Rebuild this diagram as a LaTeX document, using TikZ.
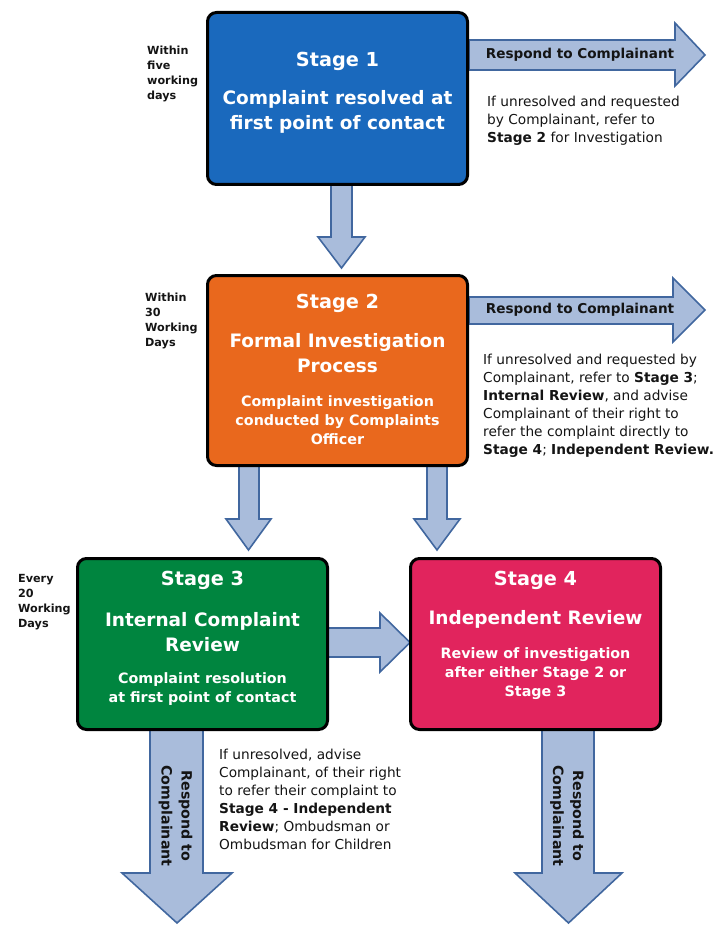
\documentclass[tikz,border=0pt]{standalone}
\usepackage{fontspec}
\setmainfont{DejaVu Sans}
\usetikzlibrary{backgrounds}
\definecolor{sone}{HTML}{1A69BD}
\definecolor{stwo}{HTML}{E9681D}
\definecolor{sthree}{HTML}{00853F}
\definecolor{sfour}{HTML}{E1245D}
\definecolor{arrowfill}{HTML}{A9BCDB}
\definecolor{arrowline}{HTML}{41679F}
\definecolor{ink}{HTML}{141414}
\newcommand{\fsz}[2]{\fontsize{#1}{#2}\selectfont}
\begin{document}
\begin{tikzpicture}[x=1pt,y=-1pt,
  stagebox/.style={draw=black, line width=3pt, rounded corners=9pt, inner sep=0pt},
  blockarrow/.style={fill=arrowfill, draw=arrowline, line width=1.6pt, line join=miter},
  stitle/.style={text=white, font=\bfseries\fsz{19.3}{24}, align=center, inner sep=0pt},
  smain/.style={text=white, font=\bfseries\fsz{18.5}{25}, align=center, inner sep=0pt},
  ssub/.style={text=white, font=\bfseries\fsz{14.3}{19}, align=center, inner sep=0pt},
  sidelabel/.style={text=ink, font=\bfseries\fsz{11.2}{15}, align=left, anchor=north west, inner sep=0pt},
  note/.style={text=ink, font=\fsz{13.7}{18}, align=left, anchor=north west, inner sep=0pt},
  arrowtext/.style={text=ink, font=\bfseries\fsz{13.6}{20}, align=center, inner sep=0pt}
]
\useasboundingbox (0,0) rectangle (713,925);

% stage boxes
\node[stagebox, fill=sone, minimum width=260pt, minimum height=172pt] (s1) at (337.5,98.5) {};
\node[stagebox, fill=stwo, minimum width=260pt, minimum height=190pt] (s2) at (337.5,370.5) {};
\node[stagebox, fill=sthree, minimum width=250pt, minimum height=171pt] (s3) at (202.5,644) {};
\node[stagebox, fill=sfour, minimum width=250pt, minimum height=171pt] (s4) at (535.5,644) {};

% block arrows
\begin{scope}[on background layer]
\draw[blockarrow] (s1.east |- 0,40) -- (675,40) -- (675,23) -- (705,55) -- (675,86) -- (675,70) -- (s1.east |- 0,70) -- cycle;
\draw[blockarrow] (s2.east |- 0,297) -- (673,297) -- (673,278) -- (705,310) -- (673,342) -- (673,324) -- (s2.east |- 0,324) -- cycle;
\draw[blockarrow] (331,180) -- (331,237) -- (318,237) -- (341.5,268) -- (365,237) -- (352,237) -- (352,180) -- cycle;
\draw[blockarrow] (239,460) -- (239,519) -- (226,519) -- (248.5,550) -- (271,519) -- (259,519) -- (259,460) -- cycle;
\draw[blockarrow] (427,460) -- (427,519) -- (414,519) -- (437,550) -- (460,519) -- (447,519) -- (447,460) -- cycle;
\draw[blockarrow] (320,628) -- (380,628) -- (380,613) -- (410,642.5) -- (380,672) -- (380,657) -- (320,657) -- cycle;
\draw[blockarrow] (150,725) -- (150,873) -- (122,873) -- (177,923) -- (232,873) -- (203,873) -- (203,725) -- cycle;
\draw[blockarrow] (542,725) -- (542,873) -- (515,873) -- (568.5,923) -- (622,873) -- (594,873) -- (594,725) -- cycle;
\end{scope}

% arrow texts
\node[arrowtext] (r1) at (580,55) {Respond to Complainant};
\node[arrowtext] (r2) at (580,310) {Respond to Complainant};
\node[arrowtext, rotate=-90, font=\bfseries\fsz{14.2}{20}] (r3) at (175.5,816) {Respond to\\Complainant};
\node[arrowtext, rotate=-90, font=\bfseries\fsz{14.2}{20}] (r4) at (567,816) {Respond to\\Complainant};

% stage texts
\node[stitle] (t1) at (337.5,61) {Stage 1};
\node[smain] (m1) at (337.5,112) {Complaint resolved at\\first point of contact};

\node[stitle] (t2) at (337.5,303) {Stage 2};
\node[smain] (m2) at (337.5,353.5) {Formal Investigation\\Process};
\node[ssub] (b2) at (337.5,420) {Complaint investigation\\conducted by Complaints\\Officer};

\node[stitle] (t3) at (202.5,580) {Stage 3};
\node[smain] (m3) at (202.5,632) {Internal Complaint\\Review};
\node[ssub] (b3) at (202.5,689) {Complaint resolution\\at first point of contact};

\node[stitle] (t4) at (535.5,580) {Stage 4};
\node[smain] (m4) at (535.5,619) {Independent Review};
\node[ssub] (b4) at (535.5,674) {Review of investigation\\after either Stage 2 or\\Stage 3};

% side labels
\node[sidelabel] (l1) at (147,46) {Within\\five\\working\\days};
\node[sidelabel] (l2) at (145,293) {Within\\30\\Working\\Days};
\node[sidelabel] (l3) at (18,574) {Every\\20\\Working\\Days};

% notes
\node[note] (n1) at (487,96) {If unresolved and requested\\by Complainant, refer to\\\textbf{Stage 2} for Investigation};
\node[note] (n2) at (483,354) {If unresolved and requested by\\Complainant, refer to \textbf{Stage 3};\\\textbf{Internal Review}, and advise\\Complainant of their right to\\refer the complaint directly to\\\textbf{Stage 4}; \textbf{Independent Review.}};
\node[note] (n3) at (219,749) {If unresolved, advise\\Complainant, of their right\\to refer their complaint to\\\textbf{Stage 4 - Independent}\\\textbf{Review}; Ombudsman or\\Ombudsman for Children};
\end{tikzpicture}
\end{document}
